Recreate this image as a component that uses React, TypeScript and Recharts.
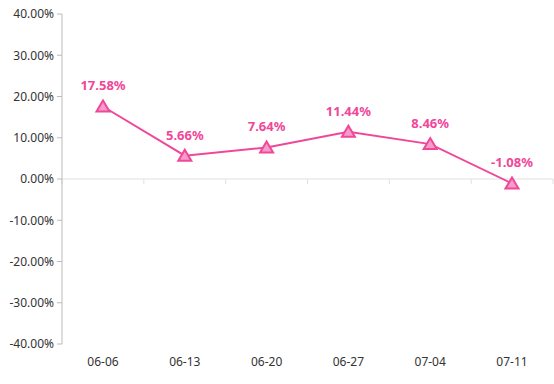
import React from 'react';
import { LineChart, Line, XAxis, YAxis, ReferenceLine, LabelList } from 'recharts';

const dates = ['06-06', '06-13', '06-20', '06-27', '07-04', '07-11'];
const returns = [17.58, 5.66, 7.64, 11.44, 8.46, -1.08];
const yTicks = [-40, -30, -20, -10, 0, 10, 20, 30, 40];

const data = dates.map((d, i) => ({ date: d, value: returns[i] }));

const PINK = '#f0479a';
const FONT = '"Noto Sans", "DejaVu Sans", sans-serif';

const Triangle = (props: any) => {
  const { cx, cy } = props;
  if (cx == null || cy == null) return null;
  return (
    <path
      d={`M${cx},${cy - 6} L${cx + 6.5},${cy + 5} L${cx - 6.5},${cy + 5} Z`}
      fill="#f59cc8"
      stroke={PINK}
      strokeWidth={2}
      strokeLinejoin="miter"
    />
  );
};

// zero line with small category-boundary ticks hanging below it
const ZeroAxis = (props: any) => {
  const { x1, x2, y1 } = props;
  const step = (x2 - x1) / dates.length;
  const ticks = [];
  for (let i = 0; i <= dates.length; i++) {
    const x = x1 + step * i;
    ticks.push(<line key={i} x1={x} x2={x} y1={y1} y2={y1 + 5} stroke="#e0e0e0" />);
  }
  return (
    <g>
      <line x1={x1} x2={x2} y1={y1} y2={y1} stroke="#e0e0e0" />
      {ticks}
    </g>
  );
};

const App: React.FC = () => {
  return (
    <div style={{ position: 'absolute', left: 0, top: 0, background: '#fff' }}>
      <LineChart
        width={554}
        height={384}
        data={data}
        margin={{ top: 14, right: 1, bottom: 10, left: 0 }}
      >
        <XAxis
          dataKey="date"
          scale="point"
          padding={{ left: 41, right: 41 }}
          axisLine={false}
          tickLine={false}
          height={30}
          tickMargin={7}
          tick={{ fill: '#333', fontSize: 12, fontFamily: FONT }}
        />
        <YAxis
          width={62}
          domain={[-40, 40]}
          ticks={yTicks}
          interval={0}
          tickFormatter={(v: number) => `${v.toFixed(2)}%`}
          axisLine={{ stroke: '#bbb' }}
          tickLine={{ stroke: '#bbb' }}
          tickSize={5}
          tickMargin={3}
          tick={{ fill: '#333', fontSize: 12, fontFamily: FONT }}
        />
        <ReferenceLine y={0} shape={ZeroAxis} />
        <Line
          dataKey="value"
          stroke={PINK}
          strokeWidth={2}
          dot={<Triangle />}
          activeDot={false}
          isAnimationActive={false}
        >
          <LabelList
            dataKey="value"
            position="top"
            offset={16}
            formatter={(v: any) => `${Number(v).toFixed(2)}%`}
            style={{ fill: PINK, fontSize: 13, fontWeight: 'bold', fontFamily: FONT }}
          />
        </Line>
      </LineChart>
    </div>
  );
};

export default App;
